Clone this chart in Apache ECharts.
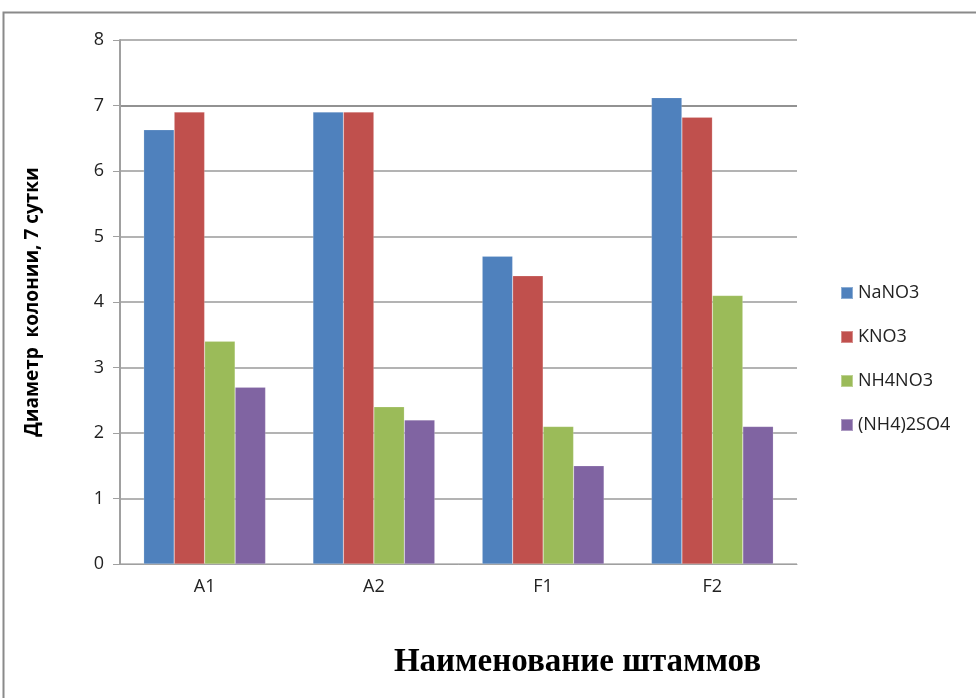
<!DOCTYPE html>
<html>
<head>
<meta charset="utf-8">
<script src="https://cdn.jsdelivr.net/npm/echarts@6/dist/echarts.min.js"></script>
<style>
  html, body { margin: 0; padding: 0; background: #fff; }
  #chart { width: 976px; height: 698px; }
</style>
</head>
<body>
<div id="chart"></div>
<script>
// Colony diameter after 7 days by strain and nitrogen source
const categories = ['A1', 'A2', 'F1', 'F2'];
const nano3 = [6.63, 6.9, 4.7, 7.12];
const kno3 = [6.9, 6.9, 4.4, 6.82];
const nh4no3 = [3.4, 2.4, 2.1, 4.1];
const nh4so4 = [2.7, 2.2, 1.5, 2.1];
const yTicks = [0, 1, 2, 3, 4, 5, 6, 7, 8];

const seriesNames = ['NaNO3', 'KNO3', 'NH4NO3', '(NH4)2SO4'];
const seriesData = [nano3, kno3, nh4no3, nh4so4];
const colors = ['#4F81BD', '#C0504D', '#9BBB59', '#8064A2'];

const font = '"Open Sans", "Liberation Sans", sans-serif';

const chart = echarts.init(document.getElementById('chart'));
chart.setOption({
  animation: false,
  color: colors,
  graphic: [{
    type: 'rect',
    shape: { x: 3.5, y: 12.5, width: 990, height: 700 },
    style: { fill: 'none', stroke: '#8a8a8a', lineWidth: 2 },
    silent: true
  }],
  grid: { left: 120, right: 179, top: 40, bottom: 134 },
  legend: {
    orient: 'vertical',
    left: 835,
    top: 279,
    itemWidth: 12,
    itemHeight: 12,
    itemGap: 26,
    icon: 'rect',
    textStyle: { fontFamily: font, fontSize: 18, color: '#222' },
    data: seriesNames
  },
  xAxis: {
    type: 'category',
    data: categories,
    name: 'Наименование штаммов',
    nameLocation: 'middle',
    nameGap: 82,
    nameTextStyle: {
      fontFamily: '"Liberation Serif", "Times New Roman", serif',
      fontWeight: 'bold', fontSize: 33, color: '#000',
      padding: [0, 0, 0, 238]
    },
    axisLine: { lineStyle: { color: '#a0a0a0', width: 1 } },
    axisTick: { show: false },
    axisLabel: { fontFamily: font, fontSize: 18, color: '#222', margin: 14 }
  },
  yAxis: {
    type: 'value',
    min: 0,
    max: 8,
    interval: 1,
    name: 'Диаметр  колонии, 7 сутки',
    nameLocation: 'middle',
    nameGap: 78,
    nameTextStyle: { fontFamily: font, fontWeight: 'bold', fontSize: 19, color: '#000' },
    axisLine: { show: true, lineStyle: { color: '#a0a0a0', width: 2 } },
    axisTick: { show: true, length: 7, lineStyle: { color: '#a0a0a0' } },
    axisLabel: {
      fontFamily: font, fontSize: 18, color: '#222', margin: 16,
      formatter: v => yTicks.includes(v) ? String(v) : ''
    },
    splitLine: {
      lineStyle: {
        color: ['#b0b0b0', '#9a9a9a', '#9a9a9a', '#9a9a9a', '#9a9a9a', '#9a9a9a', '#9a9a9a', '#6e6e6e', '#9a9a9a'],
        width: 1.5
      }
    }
  },
  series: seriesData.map((d, i) => ({
    name: seriesNames[i],
    type: 'bar',
    data: d,
    barGap: '0%',
    barCategoryGap: '28%',
    itemStyle: { borderColor: 'rgba(255,255,255,0.35)', borderWidth: 0.5 }
  }))
});
</script>
</body>
</html>
